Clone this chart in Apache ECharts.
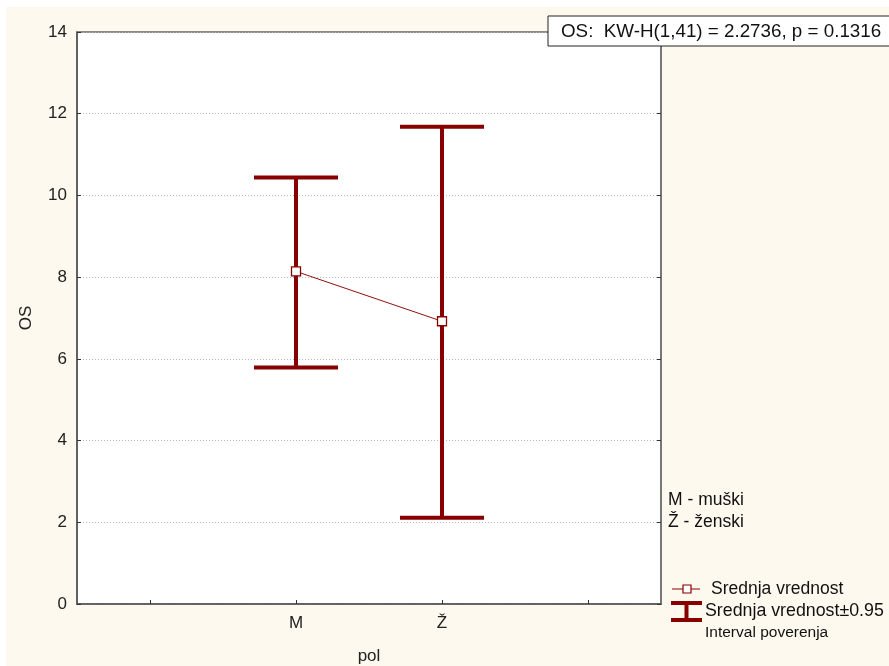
<!DOCTYPE html>
<html>
<head>
<meta charset="utf-8">
<script src="https://cdn.jsdelivr.net/npm/echarts@6/dist/echarts.min.js"></script>
<style>
html,body{margin:0;padding:0;background:#ffffff;}
#wrap{position:absolute;left:0;top:0;width:889px;height:666px;background:#ffffff;}
#bg{position:absolute;left:6px;top:7px;width:883px;height:659px;background:#fdf9ef;}
#chart{position:absolute;left:0;top:0;width:889px;height:666px;}
</style>
</head>
<body>
<div id="wrap"><div id="bg"></div><div id="chart"></div></div>
<script>
// ---- data ----
const categories = ['M', 'Ž'];
const means = [8.14, 6.92];
const lowerCI = [5.79, 2.11];
const upperCI = [10.44, 11.68];
const yMin = 0, yMax = 14, yInterval = 2;
const xAxisName = 'pol';
const yAxisName = 'OS';
const statText = 'OS:  KW-H(1,41) = 2.2736, p = 0.1316';
const codeLabels = ['M - muški', 'Ž - ženski'];
const legendMean = 'Srednja vrednost';
const legendCI1 = 'Srednja vrednost±0.95';
const legendCI2 = 'Interval poverenja';

// axis categories with empty padding slots on both sides
const axisCats = [''].concat(categories, ['']);
const meanData = ['-'].concat(means, ['-']);
const ciData = categories.map((c, i) => [i + 1, lowerCI[i], upperCI[i]]);

const RED = '#870000';
const FONT = 'Liberation Sans, Arial, sans-serif';

const chart = echarts.init(document.getElementById('chart'), null, {renderer: 'canvas'});

const option = {
  backgroundColor: 'transparent',
  animation: false,
  textStyle: {fontFamily: FONT},
  grid: {
    left: 77, top: 32, right: 228, bottom: 62,
    containLabel: false,
    outerBoundsMode: 'none',
    show: true, backgroundColor: '#ffffff',
    borderColor: '#666666', borderWidth: 1.5
  },
  xAxis: {
    type: 'category',
    data: axisCats,
    boundaryGap: true,
    name: xAxisName,
    nameLocation: 'middle',
    nameGap: 44,
    nameTextStyle: {fontSize: 17, color: '#222', fontFamily: FONT},
    axisLine: {show: true, lineStyle: {color: '#555555', width: 1.5}},
    axisTick: {show: true, inside: true, length: 4, alignWithLabel: true, lineStyle: {color: '#333'}},
    axisLabel: {fontSize: 17, color: '#222', margin: 11, fontFamily: FONT, interval: 0},
    splitLine: {show: false}
  },
  yAxis: [{
    type: 'value',
    min: yMin, max: yMax, interval: yInterval,
    name: yAxisName,
    nameLocation: 'middle',
    nameGap: 42,
    nameTextStyle: {fontSize: 17, color: '#222', fontFamily: FONT},
    axisLine: {show: true, lineStyle: {color: '#555555', width: 1.5}},
    axisTick: {show: true, inside: true, length: 4, lineStyle: {color: '#333'}},
    axisLabel: {fontSize: 17, color: '#222', margin: 10, fontFamily: FONT},
    splitLine: {show: true, lineStyle: {color: '#b8b8b8', type: [1, 2], width: 1}}
  }, {
    type: 'value',
    position: 'right',
    min: yMin, max: yMax, interval: yInterval,
    axisLine: {show: true, lineStyle: {color: '#777777', width: 2}},
    axisTick: {show: true, inside: true, length: 4, lineStyle: {color: '#333'}},
    axisLabel: {show: false},
    splitLine: {show: false}
  }],
  series: [{
    type: 'custom',
    name: legendCI1,
    data: ciData,
    z: 2,
    renderItem: function (params, api) {
      const x = api.value(0);
      const lo = api.coord([x, api.value(1)]);
      const hi = api.coord([x, api.value(2)]);
      const half = 42;
      const style = {stroke: RED, lineWidth: 4, fill: null};
      return {
        type: 'group',
        children: [
          {type: 'line', shape: {x1: lo[0], y1: lo[1], x2: hi[0], y2: hi[1]}, style: style},
          {type: 'line', shape: {x1: lo[0] - half, y1: lo[1], x2: lo[0] + half, y2: lo[1]}, style: style},
          {type: 'line', shape: {x1: hi[0] - half, y1: hi[1], x2: hi[0] + half, y2: hi[1]}, style: style}
        ]
      };
    }
  }, {
    type: 'line',
    name: legendMean,
    data: meanData,
    z: 5,
    symbol: 'rect',
    symbolSize: 9,
    showAllSymbol: true,
    lineStyle: {color: '#8e1010', width: 1},
    itemStyle: {color: '#ffffff', borderColor: RED, borderWidth: 1.3}
  }],
  graphic: [
    {type: 'rect', z: 100, shape: {x: 548, y: 16, width: 350, height: 30},
      style: {fill: '#ffffff', stroke: '#222222', lineWidth: 1}},
    {type: 'text', z: 101, x: 561, y: 32,
      style: {text: statText, font: '18.8px ' + FONT, fill: '#111', verticalAlign: 'middle'}},
    {type: 'text', z: 101, x: 668, y: 500,
      style: {text: codeLabels[0], font: '17.5px ' + FONT, fill: '#111', verticalAlign: 'middle'}},
    {type: 'text', z: 101, x: 668, y: 522,
      style: {text: codeLabels[1], font: '17.5px ' + FONT, fill: '#111', verticalAlign: 'middle'}},
    // legend: mean symbol
    {type: 'line', z: 101, shape: {x1: 672, y1: 589, x2: 700, y2: 589}, style: {stroke: RED, lineWidth: 1}},
    {type: 'rect', z: 102, shape: {x: 683, y: 585, width: 8, height: 8},
      style: {fill: '#ffffff', stroke: RED, lineWidth: 1.2}},
    {type: 'text', z: 101, x: 711, y: 589,
      style: {text: legendMean, font: '17.5px ' + FONT, fill: '#111', verticalAlign: 'middle'}},
    // legend: CI symbol
    {type: 'line', z: 101, shape: {x1: 671, y1: 603, x2: 702, y2: 603}, style: {stroke: RED, lineWidth: 4}},
    {type: 'line', z: 101, shape: {x1: 671, y1: 620, x2: 702, y2: 620}, style: {stroke: RED, lineWidth: 4}},
    {type: 'line', z: 101, shape: {x1: 686.5, y1: 603, x2: 686.5, y2: 620}, style: {stroke: RED, lineWidth: 4}},
    {type: 'text', z: 101, x: 705, y: 611,
      style: {text: legendCI1, font: '17.8px ' + FONT, fill: '#111', verticalAlign: 'middle'}},
    {type: 'text', z: 101, x: 705, y: 633,
      style: {text: legendCI2, font: '15.5px ' + FONT, fill: '#111', verticalAlign: 'middle'}}
  ]
};
chart.setOption(option);
</script>
</body>
</html>
